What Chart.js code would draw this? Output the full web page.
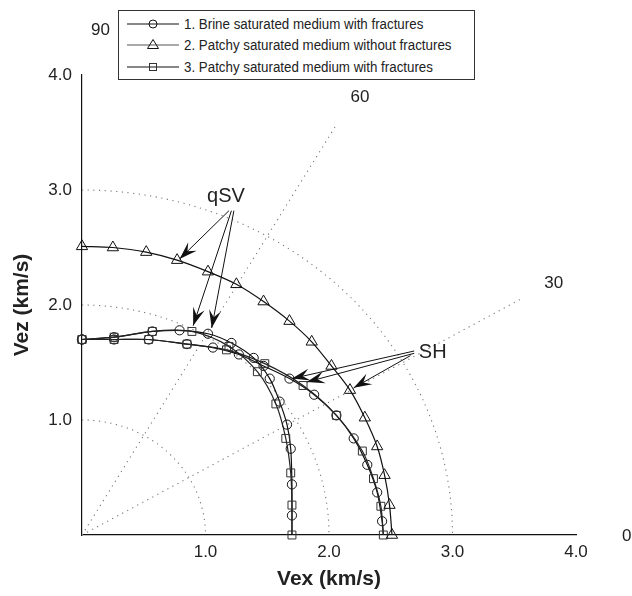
<!DOCTYPE html>
<html><head><meta charset="utf-8">
<script src="https://cdn.jsdelivr.net/npm/chart.js@4.4.1/dist/chart.umd.min.js"></script>
<style>
html,body{margin:0;padding:0;background:#fff;}
#wrap{position:relative;width:632px;height:596px;overflow:hidden;}
#legend{position:absolute;left:118px;top:10px;width:357px;height:70px;border:1px solid #333;background:#fff;font-family:"Liberation Sans",Arial,sans-serif;font-size:15.5px;color:#222;box-sizing:border-box;}
.row{position:absolute;left:0;height:20px;display:flex;align-items:center;white-space:nowrap;}
.row svg{margin-left:8px;margin-right:5px;flex:none;}
.row span{display:inline-block;transform:scaleX(0.86);transform-origin:0 50%;}
</style></head>
<body><div id="wrap"><canvas id="c" width="632" height="596"></canvas><div id="legend"></div></div>
<script>
// ---- Data (km/s) ----
const seriesNames = [
  "1. Brine saturated medium with fractures",
  "2. Patchy saturated medium without fractures",
  "3. Patchy saturated medium with fractures"
];
// Medium 2 (triangles) - qSV and SH coincide
const tri_x = [0.00, 0.25, 0.52, 0.77, 1.02, 1.25, 1.47, 1.68, 1.86, 2.02, 2.17, 2.29, 2.39, 2.45, 2.49, 2.51];
const tri_y = [2.51, 2.50, 2.46, 2.39, 2.29, 2.18, 2.03, 1.86, 1.68, 1.47, 1.26, 1.02, 0.77, 0.52, 0.26, 0.00];
// Medium 1 (circles) qSV
const c1sv_x = [0.00, 0.26, 0.57, 0.79, 1.02, 1.21, 1.39, 1.52, 1.60, 1.66, 1.69, 1.70, 1.70, 1.70];
const c1sv_y = [1.70, 1.72, 1.77, 1.78, 1.75, 1.67, 1.54, 1.36, 1.16, 0.96, 0.75, 0.44, 0.17, 0.00];
// Medium 1 (circles) SH
const c1sh_x = [0.00, 0.26, 0.54, 0.85, 1.06, 1.27, 1.47, 1.68, 1.88, 2.06, 2.20, 2.31, 2.39, 2.43, 2.44];
const c1sh_y = [1.70, 1.70, 1.70, 1.66, 1.63, 1.57, 1.47, 1.36, 1.22, 1.04, 0.84, 0.61, 0.37, 0.12, 0.00];
// Medium 3 (squares) qSV
const s3sv_x = [0.00, 0.26, 0.57, 0.89, 1.19, 1.42, 1.57, 1.65, 1.69, 1.70, 1.70];
const s3sv_y = [1.70, 1.72, 1.77, 1.77, 1.64, 1.42, 1.14, 0.84, 0.54, 0.26, 0.00];
// Medium 3 (squares) SH
const s3sh_x = [0.00, 0.26, 0.54, 0.85, 1.17, 1.48, 1.79, 2.06, 2.27, 2.36, 2.42, 2.44];
const s3sh_y = [1.70, 1.70, 1.70, 1.66, 1.61, 1.49, 1.30, 1.04, 0.73, 0.49, 0.25, 0.00];

const tickValues = [1.0, 2.0, 3.0, 4.0];
const gridRadii = [1, 2, 3];
const gridAngles = [30, 60];
const angleLabels = [
  {text: "90", x: 0.15, y: 4.39},
  {text: "60", x: 2.25, y: 3.81},
  {text: "30", x: 3.82, y: 2.19},
  {text: "0",  x: 4.41, y: -0.01}
];
const qsvLabel = {text: "qSV", x: 1.166, y: 2.94};
const qsvArrows = [[1.19, 2.82, 0.79, 2.40], [1.21, 2.82, 0.90, 1.82], [1.23, 2.82, 1.05, 1.80]];
const shLabel = {text: "SH", x: 2.84, y: 1.59};
const shArrows = [[2.69, 1.60, 1.70, 1.36], [2.69, 1.58, 1.82, 1.33], [2.66, 1.56, 2.20, 1.28]];

// ---- helpers ----
const pts = (xs, ys) => xs.map((x, i) => ({x, y: ys[i]}));
const hideLast = (n, r) => Array.from({length: n}, (_, i) => i === n - 1 ? 0 : r);

const FONT = '"Liberation Sans", Arial, sans-serif';
const markerStyles = [
  {style: 'circle', radius: 4.6, color: '#111'},
  {style: 'triangle', radius: 6.5, color: '#111'},
  {style: 'rect', radius: 5.6, color: '#333'}
];

function ds(data, m, radii, lineColor) {
  return {
    data, showLine: true, borderColor: lineColor, borderWidth: 1.2,
    pointStyle: m.style, pointRadius: radii || m.radius, pointHoverRadius: m.radius,
    pointBorderColor: m.color, pointBorderWidth: 1, pointBackgroundColor: 'rgba(0,0,0,0)',
    tension: 0.3, clip: false
  };
}

const datasets = [
  ds(pts(tri_x, tri_y), markerStyles[1], null, '#111'),
  ds(pts(s3sv_x, s3sv_y), markerStyles[2], null, '#222'),
  ds(pts(s3sh_x, s3sh_y), markerStyles[2], null, '#222'),
  ds(pts(c1sv_x, c1sv_y), markerStyles[0], hideLast(c1sv_x.length, 4.6), '#111'),
  ds(pts(c1sh_x, c1sh_y), markerStyles[0], hideLast(c1sh_x.length, 4.6), '#111')
];

function drawArrow(ctx, x1, y1, x2, y2) {
  ctx.save();
  ctx.strokeStyle = '#111'; ctx.fillStyle = '#111'; ctx.lineWidth = 1;
  ctx.beginPath(); ctx.moveTo(x1, y1); ctx.lineTo(x2, y2); ctx.stroke();
  const a = Math.atan2(y2 - y1, x2 - x1);
  const L = 18, W = 6, N = 11;
  const ca = Math.cos(a), sa = Math.sin(a);
  const bx = x2 - L * ca, by = y2 - L * sa;
  const nx = x2 - N * ca, ny = y2 - N * sa;
  ctx.beginPath();
  ctx.moveTo(x2, y2);
  ctx.lineTo(bx - W * sa, by + W * ca);
  ctx.lineTo(nx, ny);
  ctx.lineTo(bx + W * sa, by - W * ca);
  ctx.closePath(); ctx.fill();
  ctx.restore();
}

const polarPlugin = {
  id: 'polar',
  beforeDatasetsDraw(chart) {
    const {ctx, scales: {x, y}} = chart;
    const ox = x.getPixelForValue(0), oy = y.getPixelForValue(0);
    ctx.save();
    ctx.strokeStyle = '#777'; ctx.lineWidth = 1.1; ctx.setLineDash([1.2, 4.5]);
    gridRadii.forEach(r => {
      const rx = x.getPixelForValue(r) - ox, ry = oy - y.getPixelForValue(r);
      ctx.beginPath(); ctx.ellipse(ox, oy, rx, ry, 0, -Math.PI / 2, 0); ctx.stroke();
    });
    gridAngles.forEach(a => {
      const rad = a * Math.PI / 180, R = 4.1;
      ctx.beginPath(); ctx.moveTo(ox, oy);
      ctx.lineTo(x.getPixelForValue(R * Math.cos(rad)), y.getPixelForValue(R * Math.sin(rad)));
      ctx.stroke();
    });
    ctx.restore();
  },
  afterDatasetsDraw(chart) {
    const {ctx, scales: {x, y}} = chart;
    const P = (vx, vy) => [x.getPixelForValue(vx), y.getPixelForValue(vy)];
    ctx.save();
    ctx.fillStyle = '#222'; ctx.textAlign = 'center'; ctx.textBaseline = 'middle';
    ctx.font = '17px ' + FONT;
    angleLabels.forEach(l => { const [px, py] = P(l.x, l.y); ctx.fillText(l.text, px, py); });
    ctx.font = '20px ' + FONT;
    [qsvLabel, shLabel].forEach(l => { const [px, py] = P(l.x, l.y); ctx.fillText(l.text, px, py); });
    [...qsvArrows, ...shArrows].forEach(a => {
      const [x1, y1] = P(a[0], a[1]); const [x2, y2] = P(a[2], a[3]);
      drawArrow(ctx, x1, y1, x2, y2);
    });
    ctx.restore();
  }
};

const tickCb = v => (tickValues.includes(v) ? v.toFixed(1) : '');

new Chart(document.getElementById('c'), {
  type: 'scatter',
  data: {datasets},
  options: {
    responsive: false, animation: false,
    layout: {padding: {top: 75, right: 56, left: 0, bottom: 0}},
    plugins: {legend: {display: false}, tooltip: {enabled: false}},
    scales: {
      x: {
        type: 'linear', min: 0, max: 4,
        grid: {display: false, drawTicks: false},
        border: {display: true, color: '#111', width: 1.2},
        ticks: {stepSize: 1, callback: tickCb, color: '#222', font: {family: FONT, size: 17}, padding: 7, maxRotation: 0},
        title: {display: true, text: 'Vex (km/s)', color: '#222', font: {family: FONT, size: 21, weight: 'bold'}, padding: {top: 0, bottom: 4}},
        afterFit(s) { s.height = 61; }
      },
      y: {
        type: 'linear', min: 0, max: 4,
        grid: {display: false, drawTicks: false},
        border: {display: true, color: '#111', width: 1.2},
        ticks: {stepSize: 1, callback: tickCb, color: '#222', font: {family: FONT, size: 17}, padding: 10},
        title: {display: true, text: 'Vez (km/s)', color: '#222', font: {family: FONT, size: 21, weight: 'bold'}, padding: {top: 10, bottom: 0}},
        afterFit(s) { s.width = 82; }
      }
    }
  },
  plugins: [polarPlugin]
});

// ---- HTML legend ----
const legendEl = document.getElementById('legend');
const svgMarker = (m) => {
  if (m.style === 'circle') return `<circle cx="26" cy="10" r="4" fill="none" stroke="${m.color}" stroke-width="1"/>`;
  if (m.style === 'triangle') return `<polygon points="26,4.5 31.5,13.5 20.5,13.5" fill="none" stroke="${m.color}" stroke-width="1"/>`;
  return `<rect x="22.5" y="6.5" width="7" height="7" fill="none" stroke="${m.color}" stroke-width="1"/>`;
};
const legendMarkers = [markerStyles[0], markerStyles[1], markerStyles[2]];
const legendLine = ['#111', '#555', '#111'];
const rowTops = [3, 24, 46];
seriesNames.forEach((name, i) => {
  const row = document.createElement('div');
  row.className = 'row';
  row.style.top = rowTops[i] + 'px';
  row.innerHTML = `<svg width="52" height="20"><line x1="0" y1="10" x2="52" y2="10" stroke="${legendLine[i]}" stroke-width="1.2"/>${svgMarker(legendMarkers[i])}</svg><span>${name}</span>`;
  legendEl.appendChild(row);
});
</script>
</body></html>
